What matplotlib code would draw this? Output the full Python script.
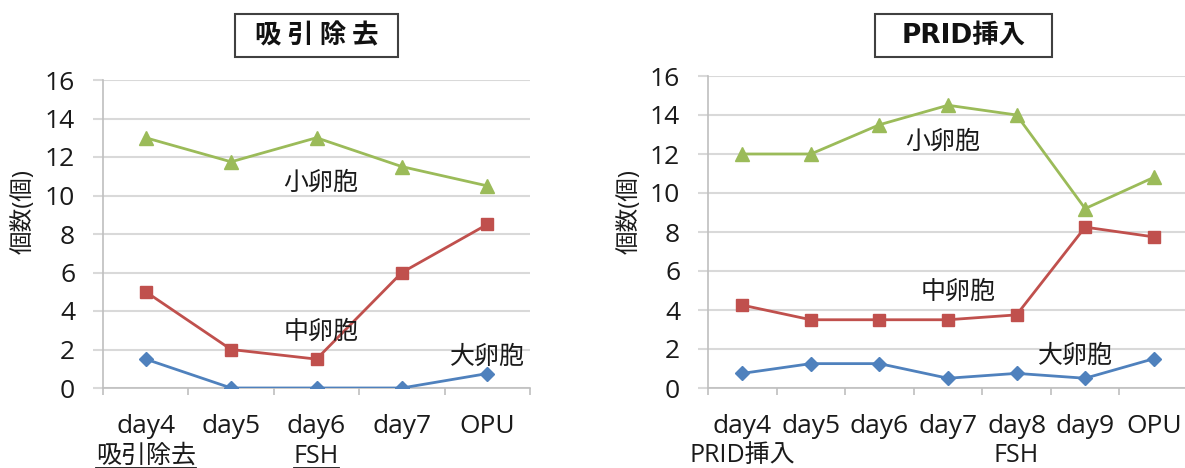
import matplotlib
matplotlib.use("Agg")
import matplotlib.pyplot as plt
from matplotlib.lines import Line2D
from matplotlib.patches import Rectangle

plt.rcParams['font.family'] = ['Open Sans', 'Noto Sans CJK JP', 'DejaVu Sans']

# Follicle counts after follicle aspiration (吸引除去)
left_days = ["day4", "day5", "day6", "day7", "OPU"]
left_small = [13, 11.75, 13, 11.5, 10.5]
left_medium = [5, 2, 1.5, 6, 8.5]
left_large = [1.5, 0, 0, 0, 0.75]
left_events = {0: "吸引除去", 2: "FSH"}

# Follicle counts after PRID insertion (PRID挿入)
right_days = ["day4", "day5", "day6", "day7", "day8", "day9", "OPU"]
right_small = [12, 12, 13.5, 14.5, 14, 9.2, 10.8]
right_medium = [4.25, 3.5, 3.5, 3.5, 3.75, 8.25, 7.75]
right_large = [0.75, 1.25, 1.25, 0.5, 0.75, 0.5, 1.5]
right_events = {0: "PRID挿入", 4: "FSH"}

series_names = ["小卵胞", "中卵胞", "大卵胞"]

GREEN = "#9BBB59"
RED = "#C0504D"
BLUE = "#4F81BD"
GRID = "#D9D9D9"
AXIS = "#BFBFBF"
INK = "#1a1a1a"

W, H = 1185, 468
fig = plt.figure(figsize=(W / 100, H / 100), dpi=100)


def px_axes(x0, y0, x1, y1):
    return fig.add_axes([x0 / W, 1 - y1 / H, (x1 - x0) / W, (y1 - y0) / H])


def draw_panel(ax, days, small, medium, large, events, ev_y, name_pos):
    n = len(days)
    xs = list(range(n))
    ax.plot(xs, small, color=GREEN, lw=2.0, marker="^", ms=10, zorder=3)
    ax.plot(xs, medium, color=RED, lw=2.0, marker="s", ms=9, zorder=3)
    ax.plot(xs, large, color=BLUE, lw=2.0, marker="D", ms=7.5, zorder=3)

    ax.set_xlim(-0.5, n - 0.5)
    ax.set_ylim(0, 16)
    ax.set_yticks(range(0, 17, 2))
    ax.set_xticks(xs)
    ax.set_xticklabels(days)
    ax.set_xticks([i - 0.5 for i in range(n + 1)], minor=True)

    ax.grid(axis="y", color=GRID, lw=1.5, zorder=0)
    ax.set_axisbelow(True)
    for s in ("top", "right"):
        ax.spines[s].set_visible(False)
    for s in ("left", "bottom"):
        ax.spines[s].set_color(AXIS)
        ax.spines[s].set_linewidth(1.2)

    ax.tick_params(axis="y", direction="out", length=7, width=1.5,
                   color=GRID, pad=13, labelsize=19, labelcolor=INK)
    ax.tick_params(axis="x", which="major", length=0, pad=19,
                   labelsize=19, labelcolor=INK)
    ax.tick_params(axis="x", which="minor", direction="out", length=5,
                   width=1.2, color=AXIS)

    for (x, y), label in zip(name_pos, series_names):
        ax.text(x, y, label, ha="center", va="center", fontsize=18,
                color=INK, zorder=4)

    texts = []
    for i, label in events.items():
        t = ax.text(i, ev_y, label, transform=ax.get_xaxis_transform(),
                    ha="center", va="center", fontsize=18, color=INK)
        texts.append(t)
    return texts


ax_l = px_axes(103, 80, 530, 388)
ax_r = px_axes(708, 76, 1188, 388)

left_texts = draw_panel(ax_l, left_days, left_small, left_medium, left_large,
                        left_events, -0.222,
                        [(2.05, 10.65), (2.05, 2.9), (4.0, 1.6)])
draw_panel(ax_r, right_days, right_small, right_medium, right_large,
           right_events, -0.215,
           [(2.93, 12.6), (3.15, 4.9), (4.86, 1.6)])

# y-axis titles
for xc in (24, 630):
    fig.text(xc / W, 1 - 212 / H, "個数(個)", rotation=90, ha="center",
             va="center", fontsize=17, color=INK)

# boxed panel titles
titles = (((235, 398), "吸 引 除 去", ['Noto Sans CJK JP']),
          ((875, 1052), "PRID挿入", ['DejaVu Sans', 'Noto Sans CJK JP']))
for (x0, x1), title, fam in titles:
    fig.add_artist(Rectangle((x0 / W, 1 - 57 / H), (x1 - x0) / W, 43 / H,
                             transform=fig.transFigure, fill=False,
                             edgecolor="#404040", lw=1.5))
    fig.text((x0 + x1) / 2 / W, 1 - 36 / H, title, ha="center", va="center",
             fontsize=19, fontweight="bold", color="#111111", family=fam)

# underline the event labels of the left panel
fig.canvas.draw()
renderer = fig.canvas.get_renderer()
for t in left_texts:
    bb = t.get_window_extent(renderer)
    yline = bb.y0 + 1
    fig.add_artist(Line2D([bb.x0 / W, bb.x1 / W], [yline / H, yline / H],
                          transform=fig.transFigure, color=INK, lw=1.3))

fig.savefig("out.png", dpi=100, facecolor="white")
